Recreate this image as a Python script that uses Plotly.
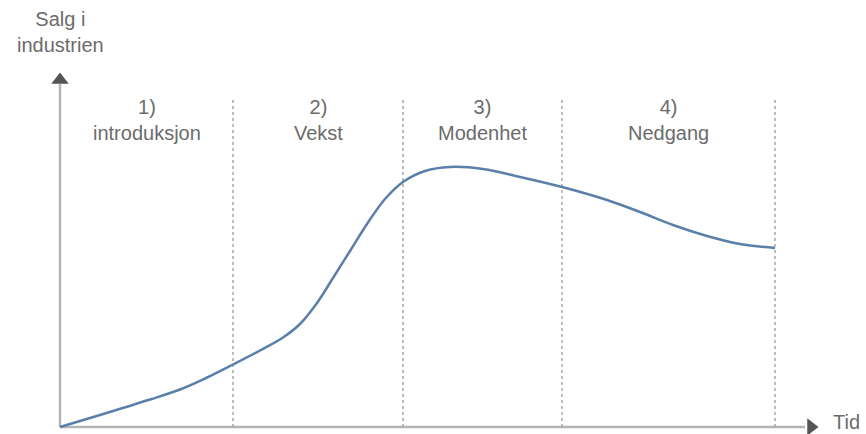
import plotly.graph_objects as go

# Data (time units, sales units)
t = [0, 4, 9, 12, 14.5, 17.3, 20, 22.3, 24, 25.7, 27.3, 29, 30.7, 32.5, 34.3, 36.5, 39,
     42.3, 46, 50.2, 54.7, 58, 61.3, 64.7, 68, 71.5]
sales = [0, 1.2, 2.75, 3.75, 4.85, 6.25, 7.65, 8.95, 10.3, 12.4, 14.9, 17.6, 20.3, 22.8,
         24.5, 25.6, 26.0, 25.8, 25.0, 24.0, 22.7, 21.5, 20.2, 19.1, 18.3, 17.9]
boundaries = [0, 17.3, 34.3, 50.2, 71.5]
phase_numbers = ["1)", "2)", "3)", "4)"]
phase_names = ["introduksjon", "Vekst", "Modenhet", "Nedgang"]
x_label = "Tid"
y_label = "Salg i<br>industrien"

X_MIN, X_MAX = -6.0, 80.6
Y_MIN, Y_MAX = -0.7, 42.7
X_AXIS_END, Y_AXIS_END = 75.7, 35.5
DASH_TOP = 32.9

FONT = "Liberation Sans, Arial, sans-serif"
TXT = "#6b6b6b"
AX = "#b5b5b5"
ARROW = "#555555"

fig = go.Figure()

# axes lines
fig.add_shape(type="line", x0=0, y0=0, x1=X_AXIS_END - 1.2, y1=0,
              line=dict(color=AX, width=2.5), layer="below")
fig.add_shape(type="line", x0=0, y0=0, x1=0, y1=Y_AXIS_END - 1.2,
              line=dict(color=AX, width=2.5), layer="below")

# dashed phase lines
for b in boundaries[1:]:
    fig.add_shape(type="line", x0=b, y0=0, x1=b, y1=DASH_TOP,
                  line=dict(color="#a8a8a8", width=1.5, dash="dot"), layer="below")

# curve
fig.add_trace(go.Scatter(x=t, y=sales, mode="lines",
                         line=dict(color="#5a80aa", width=2.5, shape="spline", smoothing=1.0),
                         hoverinfo="skip", showlegend=False))

# arrowheads
fig.add_trace(go.Scatter(x=[X_AXIS_END - 0.6], y=[0], mode="markers",
                         marker=dict(symbol="triangle-right", size=15, color=ARROW),
                         hoverinfo="skip", showlegend=False))
fig.add_trace(go.Scatter(x=[0], y=[Y_AXIS_END - 0.8], mode="markers",
                         marker=dict(symbol="triangle-up", size=15, color=ARROW),
                         hoverinfo="skip", showlegend=False))

# phase labels
for i in range(4):
    mid = (boundaries[i] + boundaries[i + 1]) / 2
    fig.add_annotation(x=mid, y=30.7, text=phase_numbers[i] + "<br>" + phase_names[i],
                       showarrow=False, xanchor="center", yanchor="middle",
                       font=dict(family=FONT, size=20, color=TXT))

# axis labels
fig.add_annotation(x=77.1, y=0.5, text=x_label, showarrow=False, xanchor="left", yanchor="middle",
                   font=dict(family=FONT, size=20, color=TXT))
fig.add_annotation(x=0, y=39.5, text=y_label, showarrow=False, xanchor="center", yanchor="middle",
                   font=dict(family=FONT, size=20, color=TXT))

fig.update_layout(
    width=866, height=434,
    margin=dict(l=0, r=0, t=0, b=0),
    paper_bgcolor="white", plot_bgcolor="white",
    xaxis=dict(range=[X_MIN, X_MAX], visible=False, fixedrange=True),
    yaxis=dict(range=[Y_MIN, Y_MAX], visible=False, fixedrange=True),
    showlegend=False,
)

fig.write_html("out.html")
